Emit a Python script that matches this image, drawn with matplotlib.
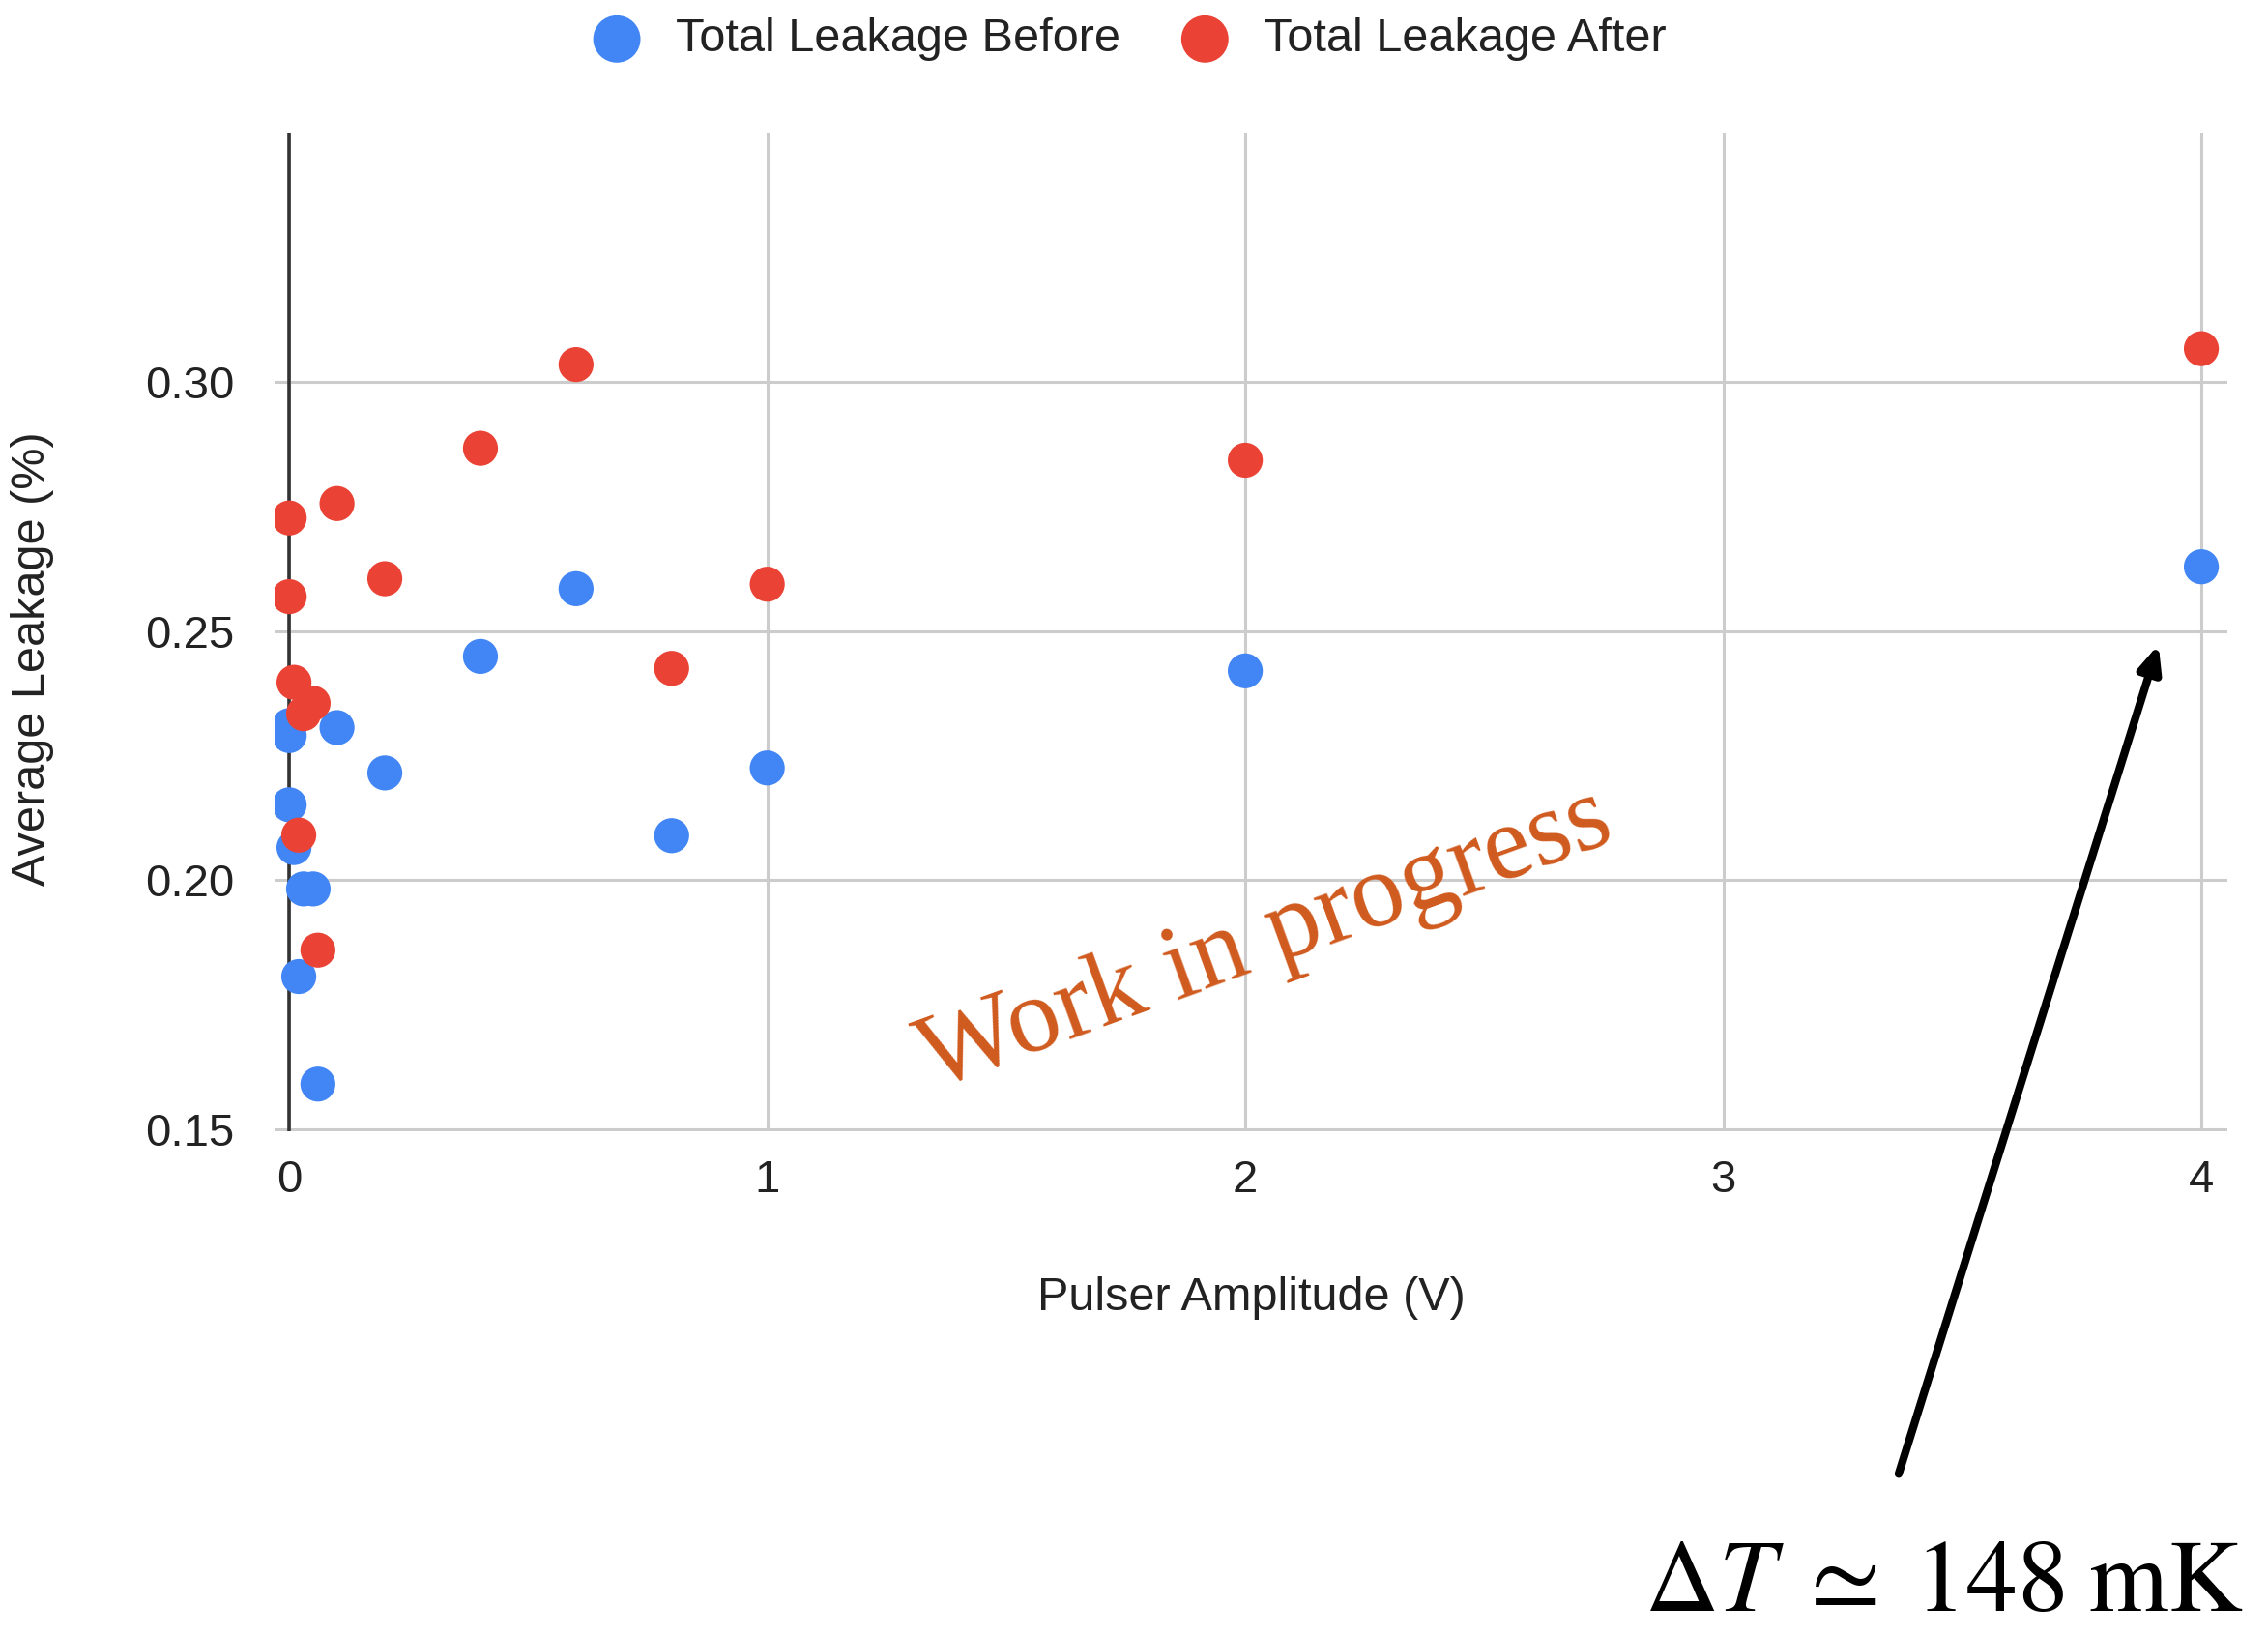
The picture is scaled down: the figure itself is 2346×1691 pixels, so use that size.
import matplotlib.pyplot as plt

plt.rcParams["font.family"] = ["Liberation Sans", "DejaVu Sans"]
plt.rcParams["mathtext.fontset"] = "stix"

# pulser amplitude (V) and average leakage (%) for each run
amp_before = [0, 0, 0.1, 0.2, 0, 0.01, 0.03, 0.05, 0.02, 0.06,
              0.4, 0.6, 0.8, 1, 2, 4]
leak_before = [0.231, 0.229, 0.2306, 0.2215, 0.2151, 0.2065, 0.1982, 0.1982,
               0.1806, 0.159, 0.2449, 0.2585, 0.2089, 0.2225, 0.242, 0.2629]

amp_after = [0, 0.1, 0.2, 0, 0.01, 0.05, 0.03, 0.02, 0.06,
             0.4, 0.6, 0.8, 1, 2, 4]
leak_after = [0.2727, 0.2756, 0.2605, 0.2569, 0.2397, 0.2355, 0.2334, 0.209,
              0.1859, 0.2867, 0.3035, 0.2425, 0.2594, 0.2843, 0.3067]

BLUE = "#4285F4"
RED = "#EA4335"
TEXT = "#222222"

fig = plt.figure(figsize=(23.46, 16.91), dpi=100)
ax = fig.add_axes([0.1212, 0.308, 0.8608, 0.6106])

ax.scatter(amp_before, leak_before, s=680, color=BLUE, edgecolors="none",
           label="Total Leakage Before", zorder=3)
ax.scatter(amp_after, leak_after, s=680, color=RED, edgecolors="none",
           label="Total Leakage After", zorder=4)

ax.set_xlim(-0.03, 4.054)
ax.set_ylim(0.1495, 0.35)
ax.set_xticks([0, 1, 2, 3, 4])
ax.set_yticks([0.15, 0.20, 0.25, 0.30])
ax.set_yticklabels(["0.15", "0.20", "0.25", "0.30"])
ax.grid(True, color="#CCCCCC", linewidth=2.2)
ax.set_axisbelow(True)
ax.axvline(0, color="#333333", linewidth=2.6, zorder=2)
for side in ax.spines.values():
    side.set_visible(False)
ax.tick_params(length=0, labelsize=34, labelcolor=TEXT)
ax.tick_params(axis="x", pad=21)
ax.tick_params(axis="y", pad=30)

ax.set_xlabel("Pulser Amplitude (V)", fontsize=35, color=TEXT)
ax.set_ylabel("Average Leakage (%)", fontsize=35, color=TEXT)
ax.xaxis.set_label_coords(0.50, -0.145)
ax.yaxis.set_label_coords(-0.113, 0.474)

fig.legend(loc="center", bbox_to_anchor=(0.493, 0.976), ncol=2, frameon=False,
           fontsize=35, markerscale=1.35, handletextpad=0.25, columnspacing=0.8,
           labelcolor=TEXT)

# watermark across the plot area
fig.text(0.558, 0.425, "Work in progress", family="Liberation Serif",
         fontsize=79, color="#D05A1E", rotation=20, ha="center", va="center")

# arrow pointing at the 4 V point, with the temperature note below
ax.annotate("", xy=(3.912, 0.2478), xytext=(0.8368, 0.097),
            textcoords="figure fraction", annotation_clip=False,
            arrowprops=dict(arrowstyle="-|>,head_length=1.6,head_width=0.7",
                            color="black", linewidth=6))
fig.text(0.989, 0.002, r"$\Delta T\;\simeq\;148\;\mathrm{mK}$", fontsize=76,
         color="black", ha="right", va="bottom")

fig.savefig("out.png", dpi=100)
